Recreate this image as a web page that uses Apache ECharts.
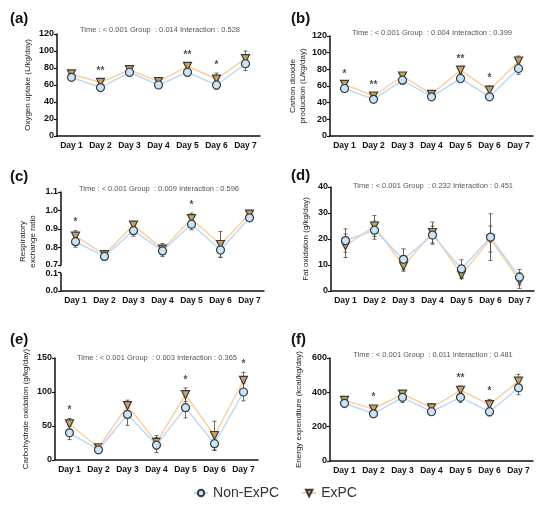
<!DOCTYPE html>
<html style="height: 100%">
<head>
	<meta charset="utf-8">
</head>
<body style="height: 100%; margin: 0; background: #fff">
<div id="container" style="width: 550px; height: 506px"></div>
<script type="text/javascript" src="https://cdn.jsdelivr.net/npm/echarts@6/dist/echarts.min.js"></script>
<script type="text/javascript">
    var days = ['Day 1', 'Day 2', 'Day 3', 'Day 4', 'Day 5', 'Day 6', 'Day 7'];

    // (a) oxygen uptake
    var oxyNon = [69, 57, 75, 60, 75, 60, 85];
    var oxyNonSd = [4, 4, 5, 4, 5, 5, 8];
    var oxyEx = [73, 63, 78, 64, 82, 67, 91];
    var oxyExSd = [3, 4, 3, 4, 4, 7, 9];
    var oxySig = ['', '**', '', '', '**', '*', ''];

    // (b) carbon dioxide production
    var co2Non = [57, 44, 67, 47, 69, 47, 81];
    var co2NonSd = [4, 3, 5, 3, 5, 3, 7];
    var co2Ex = [62, 48, 72, 50, 79, 55, 90];
    var co2ExSd = [3, 3, 3, 4, 4, 5, 6];
    var co2Sig = ['*', '**', '', '', '**', '*', ''];

    // (c) respiratory exchange ratio
    var rerNon = [0.83, 0.75, 0.89, 0.78, 0.925, 0.785, 0.96];
    var rerNonSd = [0.03, 0.02, 0.03, 0.03, 0.03, 0.04, 0.02];
    var rerEx = [0.86, 0.76, 0.92, 0.79, 0.955, 0.815, 0.98];
    var rerExSd = [0.03, 0.02, 0.02, 0.03, 0.03, 0.07, 0.02];
    var rerSig = ['*', '', '', '', '*', '', ''];

    // (d) fat oxidation
    var fatNon = [19.4, 23.4, 12.2, 21.5, 8.5, 20.7, 5.3];
    var fatNonSd = [4.5, 3.5, 4, 3.5, 3.5, 9, 3];
    var fatEx = [17.4, 25, 9.6, 22.5, 6.2, 20, 4];
    var fatExSd = [4.5, 4, 2, 4, 1.5, 5, 3];
    var fatSig = ['', '', '', '', '', '', ''];

    // (e) carbohydrate oxidation
    var choNon = [40, 15, 67, 22, 77, 24, 100];
    var choNonSd = [10, 5, 16, 11, 15, 10, 13];
    var choEx = [53, 18, 80, 26, 96, 36, 117];
    var choExSd = [8, 4, 8, 10, 10, 21, 12];
    var choSig = ['*', '', '', '', '*', '', '*'];

    // (f) energy expenditure
    var eeNon = [336, 275, 371, 287, 371, 287, 426];
    var eeNonSd = [25, 20, 30, 20, 30, 25, 40];
    var eeEx = [353, 303, 390, 310, 412, 328, 465];
    var eeExSd = [20, 20, 20, 25, 25, 30, 40];
    var eeSig = ['', '*', '', '', '**', '*', ''];

    var stats = [
        'Time : < 0.001 Group  : 0.014 Interaction : 0.528',
        'Time : < 0.001 Group  : 0.004 Interaction : 0.399',
        'Time : < 0.001 Group  : 0.009 Interaction : 0.596',
        'Time : < 0.001 Group  : 0.232 Interaction : 0.451',
        'Time : < 0.001 Group  : 0.003 Interaction : 0.365',
        'Time : < 0.001 Group  : 0.011 Interaction : 0.481'
    ];

    var panels = [
        {tag: '(a)', yName: 'Oxygen uptake (L/kg/day)', max: 120, interval: 20,
         non: oxyNon, nonSd: oxyNonSd, ex: oxyEx, exSd: oxyExSd, sig: oxySig,
         grid: {left: 57, top: 34, width: 203, height: 102}, tag_at: [10, 11], stat_at: [160, 30], gap: 24},
        {tag: '(b)', yName: 'Carbon dioxide\nproduction (L/kg/day)', max: 120, interval: 20,
         non: co2Non, nonSd: co2NonSd, ex: co2Ex, exSd: co2ExSd, sig: co2Sig,
         grid: {left: 330, top: 36, width: 203, height: 100}, tag_at: [291, 11], stat_at: [432, 33], gap: 21},
        {tag: '(c)', yName: 'Respiratory\nexchange ratio', max: 1.1, interval: 0.1, decimals: 1, brk: true,
         non: rerNon, nonSd: rerNonSd, ex: rerEx, exSd: rerExSd, sig: rerSig,
         grid: {left: 61, top: 192, width: 203, height: 99}, tag_at: [10, 169], stat_at: [159, 189], gap: 23},
        {tag: '(d)', yName: 'Fat oxidation (g/kg/day)', max: 40, interval: 10,
         non: fatNon, nonSd: fatNonSd, ex: fatEx, exSd: fatExSd, sig: fatSig,
         grid: {left: 331, top: 187, width: 203, height: 104}, tag_at: [291, 168], stat_at: [433, 186], gap: 20},
        {tag: '(e)', yName: 'Carbohydrate oxidation (g/kg/day)', max: 150, interval: 50,
         non: choNon, nonSd: choNonSd, ex: choEx, exSd: choExSd, sig: choSig,
         grid: {left: 55, top: 358, width: 203, height: 102}, tag_at: [10, 332], stat_at: [157, 358], gap: 24},
        {tag: '(f)', yName: 'Energy expenditure (kcal/kg/day)', max: 600, interval: 200,
         non: eeNon, nonSd: eeNonSd, ex: eeEx, exSd: eeExSd, sig: eeSig,
         grid: {left: 330, top: 358, width: 203, height: 103}, tag_at: [291, 332], stat_at: [433, 355], gap: 26}
    ];

    var FONT = 'Arial, "Liberation Sans", sans-serif';
    var NON_LINE = '#bcdaf5', NON_FILL = '#c9e4f8';
    var EX_LINE = '#f8d0a4', EX_FILL = '#c9a35e';
    var EDGE = '#3a3a3a';

    function renderErr(params, api) {
        var lo = api.coord([api.value(0), api.value(1)]);
        var hi = api.coord([api.value(0), api.value(2)]);
        var w = 2;
        var st = {stroke: '#444', lineWidth: 0.8};
        return {type: 'group', children: [
            {type: 'line', shape: {x1: lo[0], y1: lo[1], x2: hi[0], y2: hi[1]}, style: st},
            {type: 'line', shape: {x1: hi[0] - w, y1: hi[1], x2: hi[0] + w, y2: hi[1]}, style: st},
            {type: 'line', shape: {x1: lo[0] - w, y1: lo[1], x2: lo[0] + w, y2: lo[1]}, style: st}
        ]};
    }

    var grids = [], xAxes = [], yAxes = [], series = [], graphics = [];

    panels.forEach(function (p, i) {
        grids.push(p.grid);
        xAxes.push({
            type: 'category', gridIndex: i, data: days,
            axisLine: {lineStyle: {color: '#111', width: 1.5}},
            axisTick: {alignWithLabel: true, length: 3, lineStyle: {color: '#111', width: 1.2}},
            axisLabel: {interval: 0, hideOverlap: false, color: '#111', fontWeight: 'bold', fontSize: 8.5,
                fontFamily: FONT, margin: 5}
        });
        var y = {
            type: 'value', gridIndex: i, min: 0, max: p.max, interval: p.interval,
            name: p.yName, nameLocation: 'middle', nameGap: p.gap,
            nameTextStyle: {color: '#222', fontSize: 8, fontFamily: FONT, lineHeight: 10},
            axisLine: {show: true, lineStyle: {color: '#111', width: 1.5}},
            axisTick: {show: true, length: 3, lineStyle: {color: '#111', width: 1.2}},
            splitLine: {show: false},
            axisLabel: {color: '#111', fontWeight: 'bold', fontSize: 9, fontFamily: FONT, margin: 3, hideOverlap: false,
                formatter: function (v) { return p.decimals ? v.toFixed(p.decimals) : v; }}
        };
        if (p.brk) {
            y.breaks = [{start: 0.1, end: 0.7, gap: '7%'}];
            y.breakArea = {show: true, itemStyle: {color: '#fff', borderColor: '#fff', borderWidth: 0, opacity: 1},
                zigzagAmplitude: 1};
        }
        yAxes.push(y);

        [[p.ex, p.exSd], [p.non, p.nonSd]].forEach(function (g) {
            series.push({
                type: 'custom', xAxisIndex: i, yAxisIndex: i, z: 2, silent: true,
                renderItem: renderErr,
                data: g[0].map(function (v, j) { return [j, v - g[1][j], v + g[1][j]]; })
            });
        });

        series.push({
            name: 'ExPC', type: 'line', xAxisIndex: i, yAxisIndex: i, z: 3,
            data: p.ex, symbol: 'triangle', symbolRotate: 180, symbolSize: 8,
            lineStyle: {color: EX_LINE, width: 1.5},
            itemStyle: {color: EX_FILL, borderColor: EDGE, borderWidth: 1.2}
        });
        series.push({
            name: 'Non-ExPC', type: 'line', xAxisIndex: i, yAxisIndex: i, z: 4,
            data: p.non, symbol: 'circle', symbolSize: 8,
            lineStyle: {color: NON_LINE, width: 1.5},
            itemStyle: {color: NON_FILL, borderColor: EDGE, borderWidth: 1.2}
        });

        var starData = [];
        p.sig.forEach(function (s, j) {
            if (s) starData.push({value: [j, Math.max(p.non[j] + p.nonSd[j], p.ex[j] + p.exSd[j])], star: s});
        });
        series.push({
            type: 'scatter', xAxisIndex: i, yAxisIndex: i, symbolSize: 0, silent: true, z: 5,
            data: starData,
            label: {show: true, position: 'top', distance: 3, color: '#222', fontSize: 10, fontWeight: 'bold',
                fontFamily: FONT, formatter: function (d) { return d.data.star; }}
        });

        graphics.push({type: 'text', left: p.tag_at[0], top: p.tag_at[1],
            style: {text: p.tag, fill: '#111', font: 'bold 15px ' + FONT}});
        graphics.push({type: 'text', x: p.stat_at[0], y: p.stat_at[1],
            style: {text: stats[i], fill: '#555', font: '7.5px ' + FONT, align: 'center', verticalAlign: 'middle'}});
    });

    var myChart = echarts.init(document.getElementById('container'));
    myChart.setOption({
        backgroundColor: '#fff',
        animation: false,
        textStyle: {fontFamily: FONT},
        grid: grids,
        xAxis: xAxes,
        yAxis: yAxes,
        series: series,
        graphic: graphics,
        legend: {
            data: ['Non-ExPC', 'ExPC'], bottom: 1, left: 'center', itemGap: 22,
            itemWidth: 14, itemHeight: 8,
            textStyle: {fontSize: 14, color: '#333', fontFamily: FONT}
        }
    });
</script>
</body>
</html>
